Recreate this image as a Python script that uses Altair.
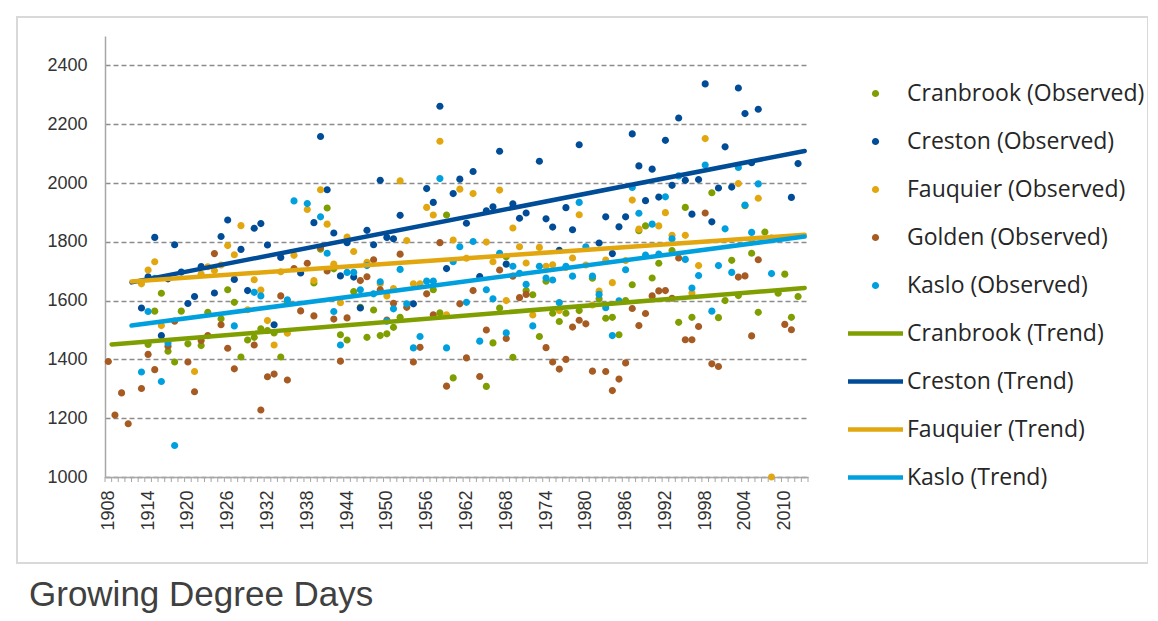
import altair as alt
import pandas as pd

# ---------------- data ----------------
cranbrook_years = [1914, 1915, 1916, 1917, 1918, 1919, 1920, 1922, 1923, 1925, 1926, 1927, 1928, 1929, 1930,
                   1931, 1932, 1933, 1934, 1935, 1939, 1940, 1941, 1942, 1943, 1944, 1945, 1946, 1947, 1948,
                   1949, 1950, 1951, 1952, 1957, 1958, 1959, 1960, 1965, 1966, 1967, 1968, 1969, 1971, 1972,
                   1973, 1974, 1975, 1976, 1977, 1979, 1981, 1982, 1983, 1984, 1985, 1986, 1987, 1988, 1989,
                   1990, 1991, 1993, 1994, 1995, 1996, 1999, 2000, 2001, 2002, 2003, 2004, 2005, 2006, 2007,
                   2008, 2009, 2010, 2011, 2012]
cranbrook_values = [1451, 1564, 1625, 1428, 1391, 1564, 1453, 1447, 1560, 1538, 1637, 1594, 1408, 1466, 1475,
                    1504, 1498, 1490, 1408, 1594, 1660, 1775, 1915, 1708, 1484, 1466, 1631, 1577, 1475, 1568,
                    1481, 1487, 1509, 1543, 1637, 1558, 1891, 1337, 1308, 1456, 1575, 1749, 1407, 1634, 1620,
                    1478, 1666, 1557, 1529, 1557, 1566, 1676, 1606, 1540, 1543, 1484, 1600, 1654, 1838, 1854,
                    1677, 1727, 1770, 1526, 1917, 1543, 1967, 1542, 1600, 1737, 1617, 1923, 1761, 1560, 1833,
                    1813, 1625, 1690, 1543, 1614]

creston_years = [1913, 1914, 1915, 1916, 1917, 1918, 1919, 1920, 1921, 1922, 1924, 1925, 1926, 1927, 1928,
                 1929, 1930, 1931, 1932, 1933, 1934, 1937, 1939, 1940, 1941, 1942, 1943, 1944, 1945, 1946,
                 1947, 1948, 1949, 1950, 1951, 1952, 1954, 1956, 1957, 1958, 1959, 1960, 1961, 1962, 1963,
                 1964, 1965, 1966, 1967, 1968, 1969, 1970, 1971, 1973, 1974, 1975, 1976, 1977, 1978, 1979,
                 1982, 1983, 1984, 1985, 1986, 1987, 1988, 1989, 1990, 1991, 1992, 1993, 1994, 1995, 1996,
                 1997, 1998, 1999, 2000, 2001, 2002, 2003, 2004, 2005, 2006, 2011, 2012]
creston_values = [1575, 1681, 1815, 1481, 1674, 1790, 1697, 1590, 1614, 1716, 1626, 1818, 1874, 1672, 1774,
                  1634, 1846, 1862, 1789, 1518, 1747, 1694, 1865, 2158, 1977, 1830, 1684, 1797, 1680, 1575,
                  1839, 1790, 2009, 1815, 1810, 1890, 1589, 1981, 1934, 2261, 1709, 1964, 2013, 1863, 2039,
                  1682, 1905, 1919, 2108, 1724, 1929, 1880, 1898, 2074, 1878, 1850, 1771, 1916, 1841, 2130,
                  1796, 1885, 1760, 1851, 1885, 2167, 2058, 1940, 2047, 1952, 2145, 1992, 2221, 2009, 1894,
                  2012, 2337, 1868, 1983, 2123, 1986, 2323, 2236, 2069, 2251, 1951, 2066]

fauquier_years = [1913, 1914, 1915, 1916, 1921, 1922, 1923, 1924, 1925, 1926, 1927, 1928, 1929, 1930, 1931,
                  1932, 1933, 1934, 1935, 1936, 1938, 1939, 1940, 1941, 1942, 1943, 1944, 1945, 1947, 1949,
                  1950, 1951, 1952, 1953, 1954, 1955, 1956, 1957, 1958, 1959, 1960, 1961, 1962, 1963, 1965,
                  1966, 1967, 1968, 1969, 1970, 1971, 1972, 1973, 1974, 1975, 1976, 1977, 1978, 1979, 1980,
                  1981, 1982, 1983, 1984, 1986, 1987, 1988, 1991, 1992, 1993, 1995, 1996, 1997, 1998, 2003,
                  2005, 2006, 2008]
fauquier_values = [1657, 1704, 1732, 1515, 1359, 1690, 1715, 1702, 1721, 1787, 1756, 1855, 1569, 1671, 1636,
                   1532, 1449, 1698, 1489, 1754, 1910, 1668, 1977, 1860, 1724, 1593, 1816, 1767, 1730, 1657,
                   1616, 1641, 2007, 1804, 1657, 1657, 1917, 1891, 2142, 1552, 1806, 1979, 1744, 1964, 1799,
                   1732, 1976, 1600, 1847, 1783, 1728, 1551, 1781, 1717, 1722, 1566, 1713, 1745, 1892, 1721,
                   1585, 1632, 1738, 1661, 1736, 1942, 1843, 1854, 1899, 1822, 1822, 1626, 1719, 2151, 1998,
                   1807, 1948, 1000]

golden_years = [1908, 1909, 1910, 1911, 1913, 1914, 1915, 1917, 1918, 1920, 1921, 1922, 1923, 1924, 1925,
                1926, 1927, 1930, 1931, 1932, 1933, 1934, 1935, 1936, 1937, 1938, 1939, 1940, 1941, 1942,
                1943, 1944, 1946, 1947, 1948, 1949, 1950, 1951, 1952, 1953, 1954, 1955, 1956, 1957, 1958,
                1959, 1961, 1962, 1963, 1964, 1965, 1967, 1968, 1969, 1970, 1971, 1974, 1975, 1976, 1977,
                1978, 1979, 1980, 1981, 1983, 1984, 1985, 1986, 1987, 1988, 1989, 1990, 1991, 1992, 1993,
                1994, 1995, 1996, 1997, 1998, 1999, 2000, 2003, 2004, 2005, 2006, 2010, 2011]
golden_values = [1393, 1211, 1286, 1181, 1301, 1417, 1365, 1445, 1530, 1391, 1290, 1464, 1481, 1760, 1518,
                 1438, 1368, 1449, 1228, 1341, 1350, 1616, 1330, 1709, 1565, 1727, 1548, 1781, 1701, 1537,
                 1394, 1541, 1668, 1681, 1739, 1637, 1534, 1591, 1758, 1577, 1391, 1441, 1623, 1552, 1797,
                 1309, 1589, 1405, 1634, 1342, 1500, 1704, 1471, 1683, 1610, 1621, 1440, 1391, 1367, 1400,
                 1510, 1533, 1521, 1360, 1359, 1294, 1333, 1388, 1573, 1515, 1556, 1616, 1633, 1634, 1608,
                 1745, 1467, 1467, 1512, 1898, 1385, 1376, 1680, 1684, 1480, 1739, 1519, 1501]

kaslo_years = [1913, 1914, 1915, 1916, 1917, 1918, 1927, 1930, 1931, 1935, 1936, 1938, 1940, 1941, 1942,
               1943, 1944, 1945, 1946, 1947, 1948, 1949, 1950, 1951, 1952, 1953, 1954, 1955, 1956, 1957,
               1958, 1959, 1960, 1961, 1962, 1963, 1964, 1965, 1966, 1967, 1968, 1969, 1970, 1971, 1972,
               1973, 1974, 1975, 1976, 1977, 1978, 1979, 1980, 1981, 1982, 1983, 1984, 1985, 1986, 1987,
               1988, 1989, 1990, 1991, 1992, 1993, 1994, 1995, 1996, 1997, 1998, 1999, 2000, 2001, 2002,
               2003, 2004, 2005, 2006, 2008]
kaslo_values = [1357, 1563, 1676, 1325, 1456, 1107, 1514, 1628, 1616, 1603, 1939, 1930, 1885, 1761, 1563,
                1449, 1696, 1696, 1637, 1719, 1623, 1664, 1530, 1572, 1706, 1589, 1439, 1478, 1666, 1666,
                2015, 1439, 1732, 1783, 1594, 1801, 1462, 1637, 1606, 1761, 1490, 1717, 1693, 1655, 1514,
                1717, 1677, 1670, 1593, 1717, 1683, 1934, 1783, 1683, 1621, 1576, 1481, 1599, 1705, 1985,
                1897, 1755, 1860, 1758, 1953, 1810, 2024, 1740, 1643, 1685, 2061, 1564, 1719, 1844, 1696,
                2053, 1925, 1832, 1997, 1692]

# trend lines: [start year, end year], [start value, end value]
cranbrook_trend_years = [1908.5, 2013]
cranbrook_trend_values = [1451, 1643]
creston_trend_years = [1911.5, 2013]
creston_trend_values = [1662, 2109]
fauquier_trend_years = [1911.5, 2013]
fauquier_trend_values = [1665, 1824]
kaslo_trend_years = [1911.5, 2013]
kaslo_trend_values = [1515, 1818]

observed_names = ["Cranbrook (Observed)", "Creston (Observed)", "Fauquier (Observed)",
                  "Golden (Observed)", "Kaslo (Observed)"]
trend_names = ["Cranbrook (Trend)", "Creston (Trend)", "Fauquier (Trend)", "Kaslo (Trend)"]

label_years = [1908, 1914, 1920, 1926, 1932, 1938, 1944, 1950, 1956, 1962, 1968, 1974, 1980,
               1986, 1992, 1998, 2004, 2010]
y_ticks = [1000, 1200, 1400, 1600, 1800, 2000, 2200, 2400]
all_years = list(range(1908, 2014))
chart_title = "Growing Degree Days"

# ---------------- styling ----------------
C_CRAN = "#7F9F00"
C_CRES = "#004C97"
C_FAUQ = "#E2A70F"
C_GOLD = "#A65B22"
C_KASL = "#00A0DF"

W, H = 703, 441

obs_rows = []
for name, yrs, vals in [(observed_names[0], cranbrook_years, cranbrook_values),
                        (observed_names[1], creston_years, creston_values),
                        (observed_names[2], fauquier_years, fauquier_values),
                        (observed_names[3], golden_years, golden_values),
                        (observed_names[4], kaslo_years, kaslo_values)]:
    for yv, v in zip(yrs, vals):
        obs_rows.append({"year": yv, "gdd": v, "series": name})
obs = pd.DataFrame(obs_rows)

trend_rows = []
for name, yrs, vals in [(trend_names[0], cranbrook_trend_years, cranbrook_trend_values),
                        (trend_names[1], creston_trend_years, creston_trend_values),
                        (trend_names[2], fauquier_trend_years, fauquier_trend_values),
                        (trend_names[3], kaslo_trend_years, kaslo_trend_values)]:
    for yv, v in zip(yrs, vals):
        trend_rows.append({"year": yv, "gdd": v, "series": name})
trend = pd.DataFrame(trend_rows)

ticks_df = pd.DataFrame({"year": [y - 0.5 for y in all_years] + [all_years[-1] + 0.5]})

domain = observed_names + trend_names
color_range = [C_CRAN, C_CRES, C_FAUQ, C_GOLD, C_KASL, C_CRAN, C_CRES, C_FAUQ, C_KASL]
CIRCLE = "M-0.13,0A0.13,0.13,0,1,0,0.13,0A0.13,0.13,0,1,0,-0.13,0Z"
BAR = "M-1,-0.08L1,-0.08L1,0.08L-1,0.08Z"
shape_range = [CIRCLE] * 5 + [BAR] * 4

x_scale = alt.Scale(domain=[1907.5, 2013.5], nice=False, zero=False)
y_scale = alt.Scale(domain=[1000, 2500], nice=False, zero=False)
color_scale = alt.Scale(domain=domain, range=color_range)
shape_scale = alt.Scale(domain=domain, range=shape_range)

legend = alt.Legend(orient="none", legendX=743, legendY=30, direction="vertical", title=None,
                    labelFont="Open Sans", labelFontSize=23, labelColor="#262626", labelLimit=400,
                    labelOffset=4, symbolSize=3025, symbolStrokeWidth=0, symbolOpacity=1,
                    rowPadding=8, padding=0)

x_axis = alt.Axis(values=label_years, title=None, labelAngle=-90, ticks=False, grid=False,
                  format="d", labelFont="Liberation Sans", labelFontSize=18, labelColor="#333333",
                  labelPadding=13, domainColor="#a6a6a6", domainWidth=1.5, labelFlush=False,
                  labelOverlap=False)
y_axis = alt.Axis(values=y_ticks, title=None, ticks=False, grid=True, gridDash=[5, 3], format="d",
                  gridColor="#8c8c8c", gridWidth=1.3, labelFont="Liberation Sans", labelFontSize=18,
                  labelColor="#333333", labelPadding=18, domainColor="#a6a6a6", domainWidth=1.5)

frame = alt.Chart(pd.DataFrame({"f": [0]})).mark_rect(
    fill="transparent", stroke="#d9d9d9", strokeWidth=2
).encode(x=alt.value(-88), x2=alt.value(1043), y=alt.value(-19), y2=alt.value(527))

title_text = alt.Chart(pd.DataFrame({"t": [chart_title]})).mark_text(
    align="left", baseline="alphabetic", font="Liberation Sans", fontSize=35, color="#404040"
).encode(x=alt.value(-76), y=alt.value(569.5), text="t:N")

points = alt.Chart(obs).mark_point(filled=True, opacity=1, size=3025).encode(
    x=alt.X("year:Q", scale=x_scale, axis=x_axis),
    y=alt.Y("gdd:Q", scale=y_scale, axis=y_axis),
    color=alt.Color("series:N", scale=color_scale, legend=legend),
    shape=alt.Shape("series:N", scale=shape_scale, legend=legend),
)

lines = alt.Chart(trend).mark_line(strokeWidth=4.5, strokeCap="round").encode(
    x=alt.X("year:Q", scale=x_scale),
    y=alt.Y("gdd:Q", scale=y_scale),
    color=alt.Color("series:N", scale=color_scale, legend=None),
)

minor_ticks = alt.Chart(ticks_df).mark_rule(color="#a6a6a6", strokeWidth=1).encode(
    x=alt.X("year:Q", scale=x_scale),
    y=alt.value(H),
    y2=alt.value(H + 5),
)

chart = alt.layer(points, lines, minor_ticks, frame, title_text).properties(
    width=W, height=H,
    autosize=alt.AutoSizeParams(type="none"),
    padding={"left": 97, "top": 28, "right": 340, "bottom": 136},
).configure_view(strokeWidth=0)

chart.save("out.html", embed_options={"renderer": "svg", "actions": False})
